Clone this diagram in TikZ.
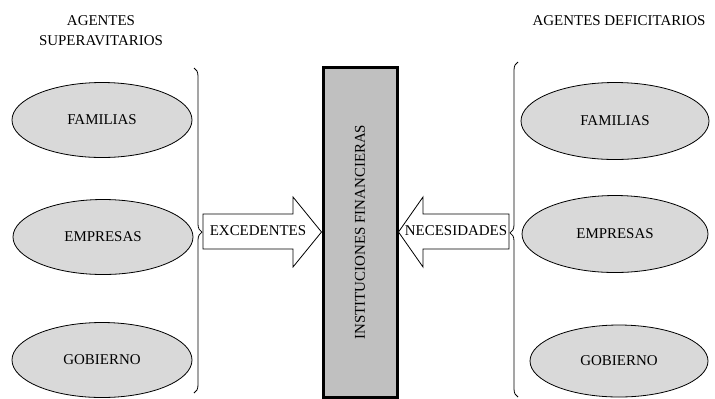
\documentclass[tikz,border=0pt]{standalone}
\usepackage{fontspec}
\setmainfont{Liberation Serif}
\usepackage{tikz}
\usetikzlibrary{shapes.geometric,decorations.pathreplacing}

\definecolor{grisclaro}{HTML}{D9D9D9}
\definecolor{grisbox}{HTML}{C0C0C0}

\begin{document}
\begin{tikzpicture}[x=1bp, y=-1bp,
    texto/.style = {font=\fontsize{15}{20}\selectfont},
    agente/.style = {texto, ellipse, draw, fill = grisclaro, line width = 0.8bp,
                     minimum width = 180bp, minimum height = 75bp, inner sep = 0pt},
    llave/.style = {decorate, decoration = {brace, amplitude = 8bp, aspect = #1}, line width = 0.8bp},
    flecha/.style = {draw, fill = white, line width = 0.8bp, line join = miter}]
    \useasboundingbox (0,0) rectangle (715,398);
    % superavitarios
    \node [texto, align = center] (tsup) at (101,31) {AGENTES\\SUPERAVITARIOS};
    \node [agente] (famsup) at (102,120) {FAMILIAS};
    \node [agente] (empsup) at (103,237) {EMPRESAS};
    \node [agente] (gobsup) at (102,360) {GOBIERNO};
    \draw [llave = 0.505] (194,68) -- (194,393);
    % deficitarios
    \node [texto] (tdef) at (619,21) {AGENTES DEFICITARIOS};
    \node [agente, minimum width = 188bp, minimum height = 77bp] (famdef) at (615,121) {FAMILIAS};
    \node [agente, minimum width = 186bp, minimum height = 77bp] (empdef) at (615,234) {EMPRESAS};
    \node [agente, minimum width = 178bp, minimum height = 72bp] (gobdef) at (619,361) {GOBIERNO};
    \draw [llave = 0.49] (518,397) -- (518,62);
    % instituciones
    \node [texto, draw, fill = grisbox, line width = 3bp, minimum width = 74bp,
           minimum height = 330bp, inner sep = 0pt] (inst) at (360,232) {};
    \node [texto, rotate = 90] at (inst.center) {INSTITUCIONES FINANCIERAS};
    % flechas
    \coordinate (lcola) at (203,232);
    \coordinate (rcola) at (509,232);
    \draw [flecha] (lcola) ++(0,-18) -- (293,214) -- (293,197) -- (inst.west |- lcola)
        -- (293,267) -- (293,249) -- (203,249) -- cycle;
    \draw [flecha] (rcola) ++(0,-18) -- (423,214) -- (423,197) -- (inst.east |- rcola)
        -- (423,267) -- (423,249) -- (509,249) -- cycle;
    \node [texto] (exc) at (258,231) {EXCEDENTES};
    \node [texto] (nec) at (456,231) {NECESIDADES};
\end{tikzpicture}
\end{document}
